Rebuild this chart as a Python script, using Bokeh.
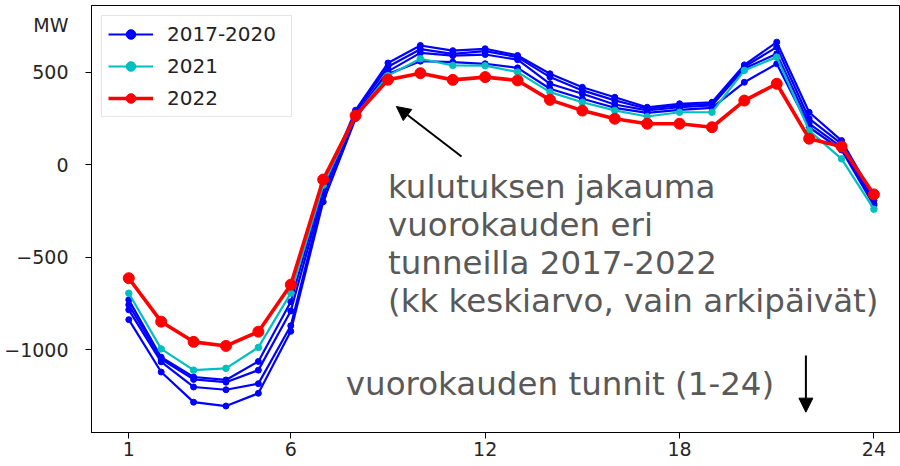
from bokeh.plotting import figure
from bokeh.models import (Range1d, FixedTicker, Legend, LegendItem, Label,
                          Arrow, NormalHead)
from bokeh.embed import file_html
from bokeh.resources import INLINE

# Hourly average consumption profile (MW), weekdays only
hours = list(range(1, 25))

# four years of the 2017-2020 period, drawn in blue
mw_2017_2020_a = [-730, -1040, -1147, -1163, -1063, -740, -120, 295, 550, 645, 617, 627,
                  591, 492, 419, 365, 311, 330, 338, 540, 663, 284, 131, -175]
mw_2017_2020_b = [-757, -1050, -1160, -1175, -1110, -790, -150, 285, 530, 625, 600, 614,
                  582, 474, 402, 348, 303, 321, 330, 530, 636, 249, 113, -193]
mw_2017_2020_c = [-784, -1065, -1201, -1216, -1183, -870, -170, 270, 505, 605, 590, 596,
                  568, 438, 384, 326, 294, 311, 321, 520, 600, 222, 95, -211]
mw_2017_2020_d = [-837, -1120, -1283, -1304, -1235, -900, -200, 250, 490, 560, 555, 546,
                  524, 411, 357, 308, 281, 297, 308, 446, 546, 203, 80, -220]
mw_2021 = [-694, -995, -1110, -1100, -987, -694, -110, 265, 482, 573, 537, 536,
           501, 393, 338, 294, 261, 284, 284, 510, 582, 185, 32, -240]
mw_2022 = [-613, -848, -957, -979, -902, -648, -80, 266, 460, 495, 459, 474,
           456, 351, 293, 249, 222, 222, 203, 347, 438, 141, 99, -160]

x_ticks = [1, 6, 12, 18, 24]
y_ticks = [-1000, -500, 0, 500]
y_tick_labels = {-1000: "\u22121000", -500: "\u2212500", 0: "0", 500: "500"}
unit_label = "MW"
unit_label_pos = 753  # the unit is written on the value axis, above its top tick

legend_labels = ["2017-2020", "2021", "2022"]

FONT = "DejaVu Sans"
NOTE_COLOR = "#595959"

p = figure(width=900, height=466,
           x_range=Range1d(-0.151, 24.82), y_range=Range1d(-1447, 861),
           output_backend="svg", toolbar_location=None,
           min_border_left=91, min_border_right=0,
           min_border_top=5, min_border_bottom=34)

p.xgrid.visible = False
p.ygrid.visible = False
p.outline_line_color = "black"
p.outline_line_width = 1
p.background_fill_color = "white"
p.border_fill_color = "white"

for ax in (p.xaxis[0], p.yaxis[0]):
    ax.axis_line_color = "black"
    ax.major_label_text_font = FONT
    ax.major_label_text_font_size = "19px"
    ax.major_label_text_color = "#262626"

p.xaxis.ticker = FixedTicker(ticks=x_ticks)
p.xaxis.major_tick_line_color = "black"
p.xaxis.major_tick_out = 6
p.xaxis.major_tick_in = 0
p.xaxis.minor_tick_line_color = None
p.xaxis.major_label_standoff = 3

# value axis: tick marks come from the minor ticks so that the unit label
# can sit on a major position without a tick mark of its own
labels = dict(y_tick_labels)
labels[unit_label_pos] = unit_label
p.yaxis.ticker = FixedTicker(ticks=y_ticks + [unit_label_pos], minor_ticks=y_ticks)
p.yaxis.major_label_overrides = labels
p.yaxis.major_tick_line_color = None
p.yaxis.major_tick_out = 0
p.yaxis.major_tick_in = 0
p.yaxis.minor_tick_line_color = "black"
p.yaxis.minor_tick_line_width = 1
p.yaxis.minor_tick_out = 6
p.yaxis.minor_tick_in = 0
p.yaxis.major_label_standoff = 17

# blue lines first, then 2021, then 2022 on top
blue_renderers = []
for series in (mw_2017_2020_a, mw_2017_2020_b, mw_2017_2020_c, mw_2017_2020_d):
    ln = p.line(hours, series, line_color="#0000ff", line_width=2.2)
    sc = p.scatter(hours, series, size=6, fill_color="#0000ff", line_color="#0000ff")
    blue_renderers += [ln, sc]

cy_line = p.line(hours, mw_2021, line_color="#00bfbf", line_width=2.2)
cy_pts = p.scatter(hours, mw_2021, size=6.5, fill_color="#00bfbf", line_color="#00bfbf")

rd_line = p.line(hours, mw_2022, line_color="#ff0000", line_width=3.6)
rd_pts = p.scatter(hours, mw_2022, size=11, fill_color="#ff0000", line_color="#ff0000")

legend = Legend(items=[
    LegendItem(label=legend_labels[0], renderers=blue_renderers[:2]),
    LegendItem(label=legend_labels[1], renderers=[cy_line, cy_pts]),
    LegendItem(label=legend_labels[2], renderers=[rd_line, rd_pts]),
], location="top_left")
legend.margin = 10
legend.padding = 6
legend.spacing = 8
legend.glyph_height = 24
legend.glyph_width = 45
legend.label_standoff = 14
legend.label_width = 118
legend.label_text_font = FONT
legend.label_text_font_size = "20px"
legend.label_text_color = "#222222"
legend.border_line_color = "#cccccc"
legend.border_line_width = 1
legend.background_fill_alpha = 0.85
p.add_layout(legend)

# explanatory note
note_lines = ["kulutuksen jakauma", "vuorokauden eri", "tunneilla 2017-2022",
              "(kk keskiarvo, vain arkipäivät)"]
note_baselines = [-222, -428, -633, -840]
for txt, yb in zip(note_lines, note_baselines):
    p.add_layout(Label(x=9.0, y=yb, text=txt, text_font=FONT,
                       text_font_size="32.5px", text_color=NOTE_COLOR))

p.add_layout(Label(x=7.7, y=-1290, text="vuorokauden tunnit (1-24)", text_font=FONT,
                   text_font_size="32.5px", text_color=NOTE_COLOR))

# arrows
p.add_layout(Arrow(end=NormalHead(size=14, fill_color="black", line_color="black"),
                   x_start=11.27, y_start=45, x_end=9.26, y_end=315,
                   line_color="black", line_width=2))
p.add_layout(Arrow(end=NormalHead(size=14, fill_color="black", line_color="black"),
                   x_start=21.9, y_start=-1031, x_end=21.9, y_end=-1337,
                   line_color="black", line_width=2))

open("out.html", "w").write(file_html(p, INLINE))
